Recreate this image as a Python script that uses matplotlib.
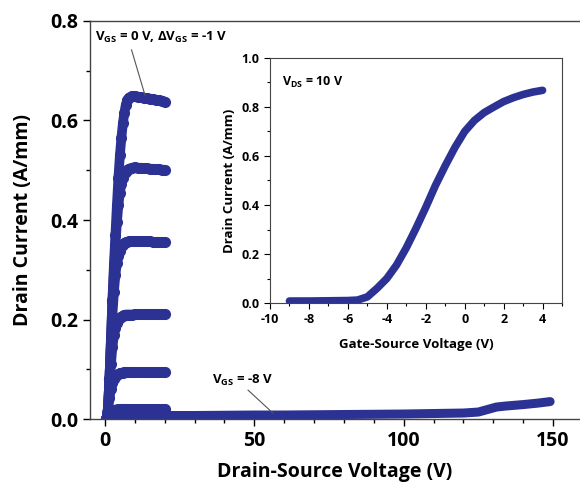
import matplotlib
matplotlib.use("Agg")
import matplotlib.pyplot as plt
from matplotlib.ticker import MultipleLocator, FormatStrFormatter

plt.rcParams['font.family'] = ['Open Sans', 'DejaVu Sans']
plt.rcParams['font.weight'] = 'bold'
plt.rcParams['axes.unicode_minus'] = False
plt.rcParams['mathtext.fontset'] = 'custom'
plt.rcParams['mathtext.rm'] = 'Open Sans'
plt.rcParams['mathtext.bf'] = 'Open Sans:bold'

blue = '#2c3194'

# output curves, VDS sweep 0-20 V
vds = [0.5, 1, 1.5, 2, 2.5, 3, 3.5, 4, 4.5, 5, 5.5, 6, 6.5, 7, 7.5, 8,
       9, 10, 11, 12, 13, 14, 15, 16, 17, 18, 19, 20]
id_0 = [0.00, 0.02, 0.08, 0.16, 0.24, 0.31, 0.37, 0.43, 0.485, 0.53, 0.565, 0.594,
        0.616, 0.632, 0.641, 0.646, 0.649, 0.649, 0.648, 0.647, 0.646, 0.645,
        0.644, 0.643, 0.642, 0.641, 0.640, 0.638]
id_m1 = [0.00, 0.02, 0.08, 0.16, 0.235, 0.295, 0.35, 0.395, 0.43, 0.455, 0.472, 0.484,
         0.492, 0.497, 0.501, 0.503, 0.505, 0.506, 0.505, 0.505, 0.504, 0.504,
         0.503, 0.503, 0.502, 0.502, 0.501, 0.501]
id_m2 = [0.00, 0.02, 0.08, 0.15, 0.21, 0.255, 0.29, 0.313, 0.328, 0.338, 0.345, 0.350,
         0.353, 0.355, 0.356, 0.357, 0.358, 0.358, 0.358, 0.357, 0.357, 0.357,
         0.357, 0.356, 0.356, 0.356, 0.356, 0.355]
id_m3 = [0.00, 0.02, 0.065, 0.11, 0.145, 0.168, 0.183, 0.193, 0.199, 0.203, 0.206, 0.208,
         0.209, 0.210, 0.210, 0.210, 0.210, 0.211, 0.211, 0.211, 0.211, 0.211,
         0.211, 0.211, 0.211, 0.211, 0.211, 0.211]
id_m4 = [0.00, 0.018, 0.042, 0.060, 0.072, 0.080, 0.085, 0.088, 0.090, 0.092, 0.093, 0.093,
         0.094, 0.094, 0.094, 0.094, 0.094, 0.094, 0.094, 0.094, 0.094, 0.094,
         0.094, 0.094, 0.094, 0.094, 0.094, 0.094]
id_m5 = [0.00, 0.007, 0.012, 0.015, 0.017, 0.018, 0.019, 0.019, 0.020, 0.020, 0.020, 0.020,
         0.020, 0.020, 0.020, 0.020, 0.020, 0.020, 0.020, 0.020, 0.020, 0.020,
         0.020, 0.020, 0.020, 0.020, 0.020, 0.020]
id_m6 = [0.00, 0.005, 0.008, 0.009, 0.010, 0.010, 0.010, 0.010, 0.010, 0.010, 0.010, 0.010,
         0.010, 0.010, 0.010, 0.010, 0.010, 0.010, 0.010, 0.010, 0.010, 0.010,
         0.010, 0.010, 0.010, 0.010, 0.010, 0.010]
id_m7 = [0.00, 0.004, 0.007, 0.008, 0.008, 0.008, 0.008, 0.008, 0.008, 0.008, 0.008, 0.008,
         0.008, 0.008, 0.008, 0.008, 0.008, 0.008, 0.008, 0.008, 0.008, 0.008,
         0.008, 0.008, 0.008, 0.008, 0.008, 0.008]
# VGS = -8 V sweeps up to 150 V
vds_m8 = [0.5, 1, 2, 4, 8, 12, 16, 20, 30, 40, 50, 60, 70, 80, 90, 100, 110,
          120, 125, 128, 131, 134, 140, 145, 149]
id_m8 = [0.00, 0.004, 0.006, 0.007, 0.007, 0.007, 0.007, 0.007, 0.007, 0.0075,
         0.008, 0.008, 0.0085, 0.009, 0.0095, 0.010, 0.011, 0.012, 0.014, 0.019,
         0.024, 0.026, 0.029, 0.032, 0.035]

# transfer curve, VDS = 10 V
vgs = [-9, -8, -7, -6, -5.5, -5, -4.5, -4, -3.5, -3, -2.5, -2, -1.5, -1, -0.5,
       0, 0.5, 1, 1.5, 2, 2.5, 3, 3.5, 4]
id_t = [0.008, 0.008, 0.009, 0.010, 0.012, 0.025, 0.06, 0.10, 0.155, 0.225, 0.305,
        0.39, 0.48, 0.56, 0.635, 0.70, 0.745, 0.777, 0.80, 0.822, 0.838, 0.851,
        0.861, 0.868]

fig = plt.figure(figsize=(5.8, 4.86), dpi=100)
ax = fig.add_axes([90/580, 67/486, 490/580, 398/486])

for cur in [id_m7, id_m6, id_m5, id_m4, id_m3, id_m2, id_m1, id_0]:
    ax.plot(vds, cur, '-o', color=blue, lw=7, ms=7, solid_capstyle='round')
ax.plot(vds_m8, id_m8, '-', color=blue, lw=6.5, solid_capstyle='round')

ax.set_xlim(-5, 159)
ax.set_ylim(0, 0.8)
ax.spines['right'].set_visible(False)
for s in ['left', 'bottom', 'top']:
    ax.spines[s].set_linewidth(1.0)
    ax.spines[s].set_color('#444444')
ax.xaxis.set_major_locator(MultipleLocator(50))
ax.xaxis.set_minor_locator(MultipleLocator(10))
ax.yaxis.set_major_locator(MultipleLocator(0.2))
ax.yaxis.set_minor_locator(MultipleLocator(0.1))
ax.yaxis.set_major_formatter(FormatStrFormatter('%.1f'))
ax.tick_params(which='major', direction='out', length=5, width=1, labelsize=14)
ax.tick_params(which='minor', direction='out', length=3, width=1)
ax.set_xlabel('Drain-Source Voltage (V)', fontsize=14, fontweight='bold', labelpad=8)
ax.set_ylabel('Drain Current (A/mm)', fontsize=14, fontweight='bold', labelpad=12)

ax.text(-3.3, 0.766, r'$\mathbf{V_{GS}}$ = 0 V, $\mathbf{\Delta V_{GS}}$ = -1 V',
        fontsize=9.5, fontweight='bold', va='center', ha='left')
ax.plot([8.9, 13.4], [0.742, 0.651], color='#555555', lw=0.8)
ax.text(36, 0.077, r'$\mathbf{V_{GS}}$ = -8 V', fontsize=9.5, fontweight='bold',
        va='center', ha='left')
ax.plot([47.9, 56.2], [0.058, 0.012], color='#555555', lw=0.8)

# inset: transfer characteristic
ins = fig.add_axes([270/580, 183/486, 292/580, 245/486])
ins.plot(vgs, id_t, '-', color=blue, lw=5.5, solid_capstyle='round')
ins.set_xlim(-10, 5)
ins.set_ylim(0, 1.0)
ins.xaxis.set_major_locator(MultipleLocator(2))
ins.xaxis.set_minor_locator(MultipleLocator(1))
ins.yaxis.set_major_locator(MultipleLocator(0.2))
ins.yaxis.set_minor_locator(MultipleLocator(0.1))
ins.yaxis.set_major_formatter(FormatStrFormatter('%.1f'))
for s in ins.spines.values():
    s.set_linewidth(0.8)
    s.set_color('#444444')
ins.tick_params(which='major', direction='out', length=4, width=0.8, labelsize=9)
ins.tick_params(which='minor', direction='out', length=2.5, width=0.8)
ins.set_xlabel('Gate-Source Voltage (V)', fontsize=9.5, fontweight='bold', labelpad=8)
ins.set_ylabel('Drain Current (A/mm)', fontsize=9.5, fontweight='bold', labelpad=4)
ins.text(-9.4, 0.9, r'$\mathbf{V_{DS}}$ = 10 V', fontsize=9, fontweight='bold',
         va='center', ha='left')

fig.savefig('out.png', dpi=100)
